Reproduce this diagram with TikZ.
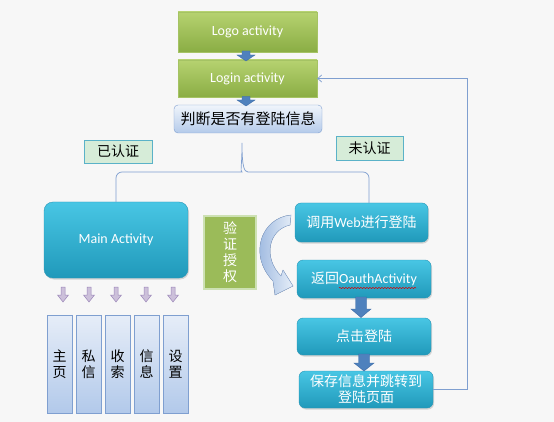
\documentclass[tikz,border=0pt]{standalone}
\usepackage{fontspec}
\setmainfont{Carlito}
\newfontfamily\cjk{Noto Sans CJK SC}
\usetikzlibrary{shadows,arrows.meta,decorations.pathmorphing}
\definecolor{bg}{HTML}{F7F7F7}
\definecolor{linkc}{HTML}{7F9FD0}
\definecolor{arrblue}{HTML}{4F81BD}
\definecolor{arrblued}{HTML}{3A6AA6}
\definecolor{purf}{HTML}{CCC0DA}
\definecolor{purd}{HTML}{9B87B8}
\newcommand\blockarrow[7]{%
  \filldraw[#1] ({#2-#6},#3) -- ({#2+#6},#3) -- ({#2+#6},#4) -- ({#2+#7},#4) -- (#2,#5) -- ({#2-#7},#4) -- ({#2-#6},#4) -- cycle;}
\tikzset{
  base/.style={font=\fontsize{14}{17}\selectfont, inner sep=0pt, align=center},
  greenbox/.style={base, rectangle, top color={rgb,255:red,182;green,210;blue,112}, bottom color={rgb,255:red,138;green,173;blue,68}, draw={rgb,255:red,165;green,195;blue,100}, text=white, drop shadow={opacity=0.25,shadow xshift=1pt,shadow yshift=-1.5pt}},
  judgebox/.style={base, rounded corners=4pt, top color={rgb,255:red,240;green,245;blue,251}, bottom color={rgb,255:red,180;green,202;blue,234}, draw=linkc, text=black},
  tagbox/.style={base, rectangle, fill={rgb,255:red,214;green,236;blue,216}, draw={rgb,255:red,90;green,178;blue,200}, line width=0.8pt, text=black},
  cyanbox/.style={base, rounded corners=6pt, top color={rgb,255:red,72;green,198;blue,228}, bottom color={rgb,255:red,32;green,153;blue,186}, draw={rgb,255:red,40;green,150;blue,182}, text=white, drop shadow={opacity=0.3,shadow xshift=1pt,shadow yshift=-1.5pt}},
  authbox/.style={base, rectangle, fill={rgb,255:red,155;green,187;blue,89}, draw={rgb,255:red,205;green,225;blue,180}, line width=1.5pt, text=white},
  colbox/.style={base, rectangle, top color={rgb,255:red,230;green,237;blue,248}, bottom color={rgb,255:red,178;green,201;blue,234}, draw=linkc, text=black, minimum width=25pt, minimum height=98pt},
  link/.style={draw=linkc, line width=0.7pt},
  bluearr/.style={fill=arrblue, draw=arrblued, line width=0.4pt},
  purarr/.style={fill=purf, draw=purd, line width=0.5pt},
}
\begin{document}
\begin{tikzpicture}[x=1pt,y=-1pt]
\fill[bg] (0,0) rectangle (554,422);
\useasboundingbox (0,0) rectangle (554,422);

% top chain
\node[greenbox, minimum width=139pt, minimum height=40pt] (logo) at (247.5,32) {Logo activity};
\node[greenbox, minimum width=139pt, minimum height=37pt] (login) at (247.5,78.5) {Login activity};
\node[judgebox, minimum width=148pt, minimum height=28pt, font=\cjk\fontsize{15}{18}\selectfont] (judge) at (248,119) {判断是否有登陆信息};
\blockarrow{bluearr}{246}{51}{55}{61}{4}{9}
\blockarrow{bluearr}{246}{96.5}{100}{106}{4}{9}

% tags
\node[tagbox, minimum width=68pt, minimum height=23pt, font=\cjk\fontsize{14}{17}\selectfont] (tagyes) at (118,151.5) {已认证};
\node[tagbox, minimum width=67pt, minimum height=24pt, font=\cjk\fontsize{14}{17}\selectfont] (tagno) at (369.5,148) {未认证};

% main branch
\node[cyanbox, minimum width=144pt, minimum height=76pt, rounded corners=9pt] (main) at (116,240) {Main Activity};

% right branch
\node[cyanbox, minimum width=133pt, minimum height=39pt] (web) at (361.5,222.5) {{\cjk 调用}Web{\cjk 进行登陆}};
\node[cyanbox, minimum width=134pt, minimum height=38pt] (oauth) at (364,279) {{\cjk 返回}OauthActivity};
\node[cyanbox, minimum width=134pt, minimum height=37pt, font=\cjk\fontsize{14}{17}\selectfont] (click) at (364,336.5) {点击登陆};
\node[cyanbox, minimum width=134pt, minimum height=37pt, font=\cjk\fontsize{14}{16}\selectfont] (save) at (366,389.5) {保存信息并跳转到\\登陆页面};
\draw[red!85!black, line width=0.5pt, decorate, decoration={snake, amplitude=0.6pt, segment length=3pt}] (339,288) -- (416,288);

\node[authbox, minimum width=52pt, minimum height=73pt, font=\cjk\fontsize{14}{16}\selectfont] (auth) at (230,252.5) {验\\证\\授\\权};

% curved arrow
\filldraw[left color={rgb,255:red,140;green,172;blue,218}, right color={rgb,255:red,230;green,238;blue,248}, draw={rgb,255:red,140;green,170;blue,215}, line width=0.4pt]
  (291,215) .. controls (261,218) and (248,255) .. (273,281)
  -- (275,295) -- (293,286) -- (283,270) -- (281,276)
  .. controls (263,258) and (268,230) .. (290,225) -- cycle;

\blockarrow{bluearr}{361}{297}{309}{317.5}{5.5}{10}
\blockarrow{bluearr}{364}{354}{363}{371}{5.5}{10}

% bracket
\coordinate (apex) at (242,143);
\draw[link] (main.north) [rounded corners=6pt] |- (236,172) [sharp corners] .. controls (240,172) and (242,166) .. (apex)
  .. controls (242,166) and (244,172) .. (248,172) [rounded corners=6pt] -| ([xshift=7.5pt]web.north);

% loop back
\coordinate (corner) at (467,78.5);
\draw[link, -{Straight Barb[length=4pt,width=7pt]}] (save.east) -| (corner) -- (login.east);

% columns
\foreach \cx/\ax/\txt/\nm in {59.5/63/主\\页/c1, 88.5/89/私\\信/c2, 117.5/116/收\\索/c3, 146.5/146/信\\息/c4, 175.5/173/设\\置/c5}{
  \node[colbox, font=\cjk\fontsize{14}{16}\selectfont] (\nm) at (\cx,364) {\txt};
  \blockarrow{purarr}{\ax}{287}{295}{302}{2}{5.5}
}
\end{tikzpicture}
\end{document}
